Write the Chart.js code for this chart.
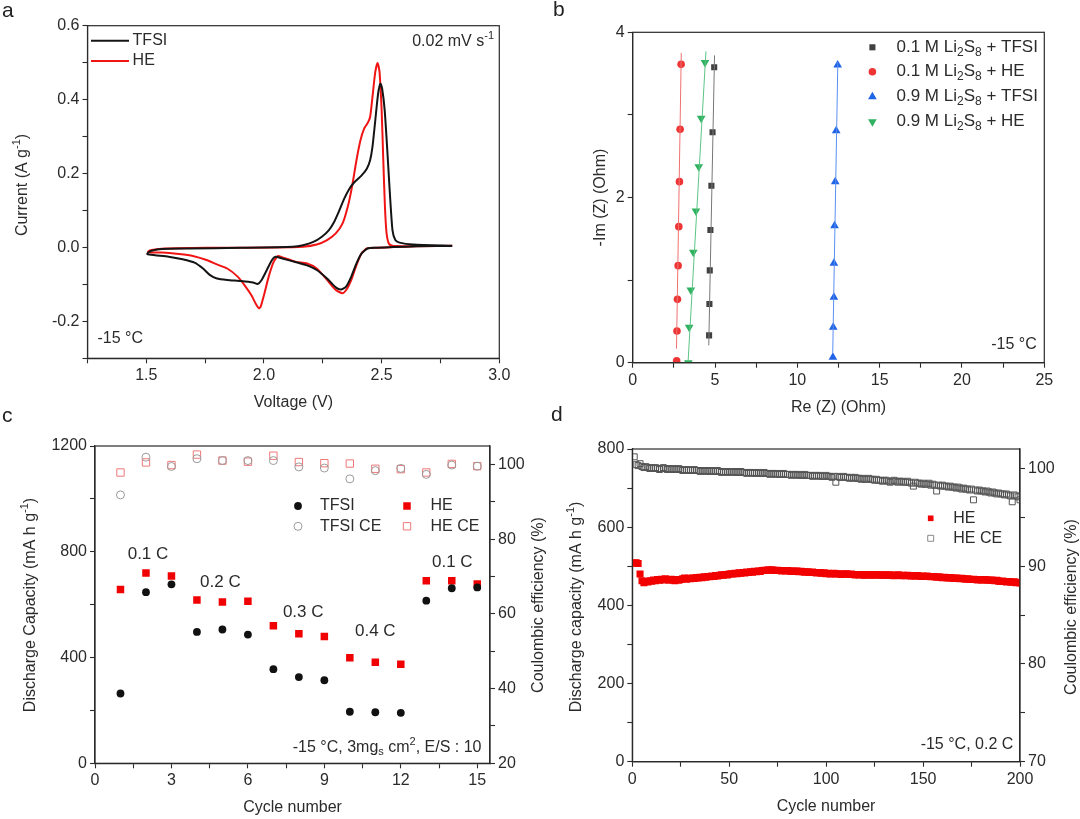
<!DOCTYPE html>
<html lang="en">
<head>
<meta charset="UTF-8">
<title>Li-S cells at -15 °C</title>
<script src="https://cdn.jsdelivr.net/npm/chart.js"></script>
<style>
  html, body { margin: 0; padding: 0; background: #fff; }
  #wrap { position: relative; width: 1080px; height: 819px; overflow: hidden; }
  #wrap canvas { position: absolute; left: 0; top: 0; }
</style>
</head>
<body>
<div id="wrap">
  <canvas id="pa" width="1080" height="819"></canvas>
  <canvas id="pb" width="1080" height="819"></canvas>
  <canvas id="pc" width="1080" height="819"></canvas>
  <canvas id="pd" width="1080" height="819"></canvas>
</div>
<script>
// ---- panel a: CV curves [voltage, current], scan from 2.8 V down and back
const cvTFSI = [[2.80,0.004],[2.65,0.003],[2.55,0.001],[2.48,-0.001],[2.44,-0.003],[2.415,-0.016],[2.393,-0.043],
  [2.371,-0.079],[2.349,-0.106],[2.327,-0.114],[2.305,-0.108],[2.268,-0.084],[2.224,-0.061],[2.18,-0.048],
  [2.137,-0.04],[2.078,-0.03],[2.049,-0.025],[2.034,-0.034],[2.012,-0.061],[1.99,-0.088],[1.973,-0.099],
  [1.954,-0.095],[1.902,-0.091],[1.844,-0.088],[1.80,-0.084],[1.771,-0.075],[1.741,-0.057],[1.705,-0.041],
  [1.654,-0.032],[1.595,-0.025],[1.537,-0.021],[1.504,-0.018],[1.51,-0.013],[1.522,-0.009],[1.566,-0.0045],
  [1.683,-0.003],[1.9,-0.001],[2.122,0.002],[2.166,0.006],[2.21,0.015],[2.246,0.029],[2.276,0.047],
  [2.298,0.069],[2.32,0.10],[2.341,0.132],[2.363,0.159],[2.385,0.177],[2.415,0.195],[2.437,0.213],
  [2.451,0.236],[2.461,0.272],[2.473,0.344],[2.485,0.416],[2.495,0.443],[2.502,0.43],[2.513,0.371],
  [2.524,0.263],[2.535,0.146],[2.546,0.047],[2.558,0.02],[2.576,0.013],[2.634,0.008],[2.80,0.0045]];
const cvHE = [[2.80,0.004],[2.65,0.003],[2.55,0.001],[2.48,-0.001],[2.437,-0.003],[2.415,-0.016],[2.393,-0.048],
  [2.371,-0.088],[2.353,-0.112],[2.334,-0.124],[2.305,-0.115],[2.268,-0.088],[2.224,-0.057],[2.18,-0.043],
  [2.137,-0.039],[2.078,-0.027],[2.06,-0.023],[2.041,-0.039],[2.02,-0.079],[2.002,-0.124],[1.986,-0.16],
  [1.979,-0.165],[1.968,-0.156],[1.946,-0.129],[1.917,-0.102],[1.888,-0.079],[1.844,-0.057],[1.80,-0.046],
  [1.756,-0.034],[1.698,-0.023],[1.639,-0.018],[1.566,-0.014],[1.507,-0.0135],[1.51,-0.01],[1.522,-0.007],
  [1.58,-0.003],[1.756,-0.001],[2.049,0],[2.166,0.002],[2.224,0.008],[2.268,0.02],[2.305,0.038],
  [2.334,0.065],[2.356,0.11],[2.374,0.164],[2.393,0.236],[2.41,0.29],[2.426,0.322],[2.441,0.337],
  [2.451,0.353],[2.461,0.407],[2.473,0.475],[2.483,0.499],[2.491,0.475],[2.5,0.371],[2.507,0.236],
  [2.514,0.11],[2.521,0.038],[2.532,0.009],[2.554,0.0036],[2.80,0.0045]];

// ---- panel b: impedance points [Re, -Im] and the fitted lines through them
const eis01TFSI = [[4.64,0.331],[4.66,0.71],[4.68,1.118],[4.72,1.606],[4.78,2.143],[4.85,2.789],[4.95,3.576]];
const eis01HE = [[2.67,0.024],[2.69,0.383],[2.72,0.767],[2.76,1.175],[2.80,1.647],[2.84,2.192],[2.88,2.825],[2.94,3.612]];
const eis09TFSI = [[12.16,0.065],[12.18,0.428],[12.22,0.791],[12.22,1.203],[12.26,1.659],[12.30,2.192],[12.36,2.809],[12.45,3.604]];
const eis09HE = [[3.38,0.0],[3.43,0.428],[3.53,0.88],[3.68,1.336],[3.84,1.837],[4.01,2.373],[4.16,2.959],[4.39,3.633]];
const fit01TFSI = [[4.62,0.21],[4.97,3.72]];
const fit01HE = [[2.66,0.17],[2.95,3.75]];
const fit09TFSI = [[12.15,0.12],[12.46,3.64]];
const fit09HE = [[3.36,0.0],[4.45,3.77]];

// ---- panel c: rate test
const cyclesC = [1, 2, 3, 4, 5, 6, 7, 8, 9, 10, 11, 12, 13, 14, 15];
const capTFSI = [264, 647, 677, 497, 506, 487, 356, 326, 314, 195, 193, 191, 615, 662, 665];
const capHE = [657, 720, 708, 618, 610, 613, 520, 490, 480, 399, 382, 375, 690, 690, 678];
const ceTFSI = [91.9, 102.0, 99.5, 101.6, 101.1, 101.1, 101.1, 99.4, 99.1, 96.2, 98.4, 99.0, 97.4, 99.9, 99.6];
const ceHE = [97.9, 100.6, 99.9, 102.7, 101.1, 100.8, 102.4, 100.7, 100.4, 100.3, 98.9, 98.8, 97.9, 100.2, 99.6];
const rateLabels = ['0.1 C', '0.2 C', '0.3 C', '0.4 C', '0.1 C'];
const ratePos = [[2.08, 791], [4.92, 685], [8.17, 571], [11.0, 498], [14.02, 760]];

// ---- panel d: 200 cycles at 0.2 C
const cyclesD = Array.from({ length: 200 }, (_, i) => i + 1);
const dCapHE = [
  508, 509, 507, 480, 463, 458, 461, 460, 463, 462, 465, 463, 466, 464, 467, 465, 468, 466, 464, 467,
  465, 463, 466, 464, 466, 468, 470, 467, 469, 468, 470, 469, 471, 470, 472, 471, 473, 472, 474, 473,
  475, 474, 476, 475, 477, 478, 477, 479, 478, 480, 481, 480, 482, 481, 483, 482, 484, 483, 485, 484,
  486, 485, 487, 486, 488, 487, 489, 490, 489, 491, 490, 491, 490, 489, 490, 489, 488, 489, 488, 489,
  488, 487, 488, 487, 488, 486, 487, 486, 485, 486, 485, 484, 485, 484, 483, 484, 483, 482, 483, 481,
  482, 480, 481, 482, 480, 481, 480, 479, 480, 481, 480, 479, 480, 479, 478, 479, 478, 479, 478, 477,
  478, 479, 478, 477, 478, 479, 478, 477, 478, 477, 478, 477, 478, 477, 476, 477, 478, 477, 476, 477,
  476, 477, 476, 475, 476, 475, 476, 475, 474, 475, 474, 475, 474, 473, 474, 473, 472, 473, 472, 471,
  472, 471, 470, 471, 470, 469, 470, 469, 468, 469, 468, 467, 468, 467, 466, 467, 466, 465, 466, 465,
  465, 466, 465, 464, 465, 464, 463, 464, 462, 461, 462, 461, 460, 461, 460, 459, 460, 458, 459, 457];
const dCeHE = [
  101.2, 100.4, 100.3, 100.5, 100.2, 100.1, 100.2, 100.1, 100.0, 100.1, 100.0, 100.1, 100.0, 99.9, 100.0, 100.1, 100.0, 99.9, 100.0, 99.9,
  100.0, 99.9, 99.9, 100.0, 99.9, 99.8, 99.9, 99.8, 99.9, 99.8, 99.8, 99.9, 99.8, 99.8, 99.7, 99.8, 99.8, 99.7, 99.8, 99.7,
  99.8, 99.7, 99.7, 99.8, 99.7, 99.6, 99.7, 99.7, 99.6, 99.7, 99.7, 99.6, 99.7, 99.6, 99.6, 99.7, 99.6, 99.6, 99.5, 99.6,
  99.6, 99.5, 99.6, 99.5, 99.6, 99.5, 99.5, 99.6, 99.5, 99.5, 99.4, 99.5, 99.5, 99.4, 99.5, 99.4, 99.4, 99.5, 99.4, 99.4,
  99.4, 99.3, 99.4, 99.4, 99.3, 99.4, 99.3, 99.3, 99.4, 99.3, 99.3, 99.3, 99.2, 99.3, 99.3, 99.2, 99.3, 99.2, 99.2, 99.3,
  99.2, 99.2, 99.1, 99.2, 98.6, 99.2, 99.1, 99.1, 99.2, 99.1, 99.1, 99.0, 99.1, 99.0, 99.1, 99.0, 99.0, 98.9, 99.0, 98.9,
  98.9, 99.0, 98.9, 98.9, 98.8, 98.9, 98.8, 98.8, 98.7, 98.8, 98.8, 98.7, 98.6, 98.7, 98.8, 98.7, 98.6, 98.7, 98.7, 98.6,
  98.6, 98.7, 98.6, 98.5, 98.2, 98.6, 98.5, 98.5, 98.4, 98.5, 98.4, 98.4, 98.5, 98.3, 98.4, 98.3, 97.7, 98.3, 98.2, 98.3,
  98.2, 98.2, 98.1, 98.2, 98.1, 98.1, 98.0, 98.1, 98.0, 97.9, 98.0, 97.9, 97.9, 97.8, 97.9, 96.8, 97.8, 97.7, 97.8, 97.7,
  97.7, 97.6, 97.7, 97.6, 97.5, 97.6, 97.5, 97.4, 97.5, 97.4, 97.4, 97.3, 97.4, 97.3, 97.2, 96.6, 97.3, 97.2, 97.1, 96.8];

const FONT = '"Liberation Sans", Arial, Helvetica, sans-serif';
const INK = '#2b2b2b';
const W = 1080, H = 819;
Chart.defaults.font.family = FONT;
Chart.defaults.font.size = 16;
Chart.defaults.color = INK;

const pts = arr => arr.map(p => ({ x: p[0], y: p[1] }));
const zip = (xs, ys) => xs.map((x, i) => ({ x, y: ys[i] }));
const near = (v, m) => Math.abs(v / m - Math.round(v / m)) < 1e-6;

function axis(position, min, max, step, major, digits) {
  return {
    type: 'linear', position, min, max,
    afterFit: s => { if (s.isHorizontal()) s.height = 30; else s.width = 50; },
    border: { display: true, color: INK, width: 1.2 },
    grid: { drawOnChartArea: false, tickLength: 5, tickColor: INK, tickWidth: 1.1 },
    ticks: {
      stepSize: step, autoSkip: false, includeBounds: false, maxRotation: 0, padding: 3, color: INK,
      font: { family: FONT, size: 16 },
      callback: v => near(v, major) ? (Math.abs(v) < 1e-9 ? 0 : v).toFixed(digits) : ''
    }
  };
}

// text with sub/superscripts: parts = [[text, 0|1(sup)|-1(sub)], ...]
function rich(ctx, parts, x, y, align, rot, size, color, base) {
  if (typeof parts === 'string') parts = [[parts, 0]];
  const fontFor = m => (m ? Math.round(size * 0.68) : size) + 'px ' + FONT;
  let w = 0;
  parts.forEach(p => { ctx.font = fontFor(p[1]); w += ctx.measureText(p[0]).width; });
  ctx.save();
  ctx.translate(x, y);
  ctx.rotate(rot || 0);
  ctx.fillStyle = color || INK;
  ctx.textAlign = 'left';
  ctx.textBaseline = base || 'middle';
  let cx = align === 'center' ? -w / 2 : align === 'right' ? -w : 0;
  parts.forEach(p => {
    ctx.font = fontFor(p[1]);
    const dy = p[1] === 1 ? -size * 0.36 : p[1] === -1 ? size * 0.3 : 0;
    ctx.fillText(p[0], cx, dy);
    cx += ctx.measureText(p[0]).width;
  });
  ctx.restore();
}

function mark(ctx, style, x, y, r, fill, stroke) {
  ctx.save();
  ctx.beginPath();
  if (style === 'circle') {
    ctx.arc(x, y, r, 0, Math.PI * 2);
  } else if (style === 'rect') {
    const s = r * Math.SQRT1_2;
    ctx.rect(x - s, y - s, 2 * s, 2 * s);
  } else {
    let a = style === 'triDown' ? Math.PI : 0;
    for (let i = 0; i < 3; i++) {
      const px = x + Math.sin(a) * r, py = y - Math.cos(a) * r;
      if (i) ctx.lineTo(px, py); else ctx.moveTo(px, py);
      a += Math.PI * 2 / 3;
    }
    ctx.closePath();
  }
  if (fill) { ctx.fillStyle = fill; ctx.fill(); }
  if (stroke) { ctx.strokeStyle = stroke; ctx.lineWidth = 1; ctx.stroke(); }
  ctx.restore();
}

function decoPlugin(cfg) {
  return {
    id: 'deco',
    afterDraw(chart) {
      const ctx = chart.ctx, a = chart.chartArea;
      ctx.save();
      ctx.strokeStyle = INK;
      ctx.lineWidth = 1.2;
      ctx.strokeRect(a.left, a.top, a.right - a.left, a.bottom - a.top);
      ctx.restore();
      (cfg.keys || []).forEach(k => {
        if (k.line) {
          ctx.save();
          ctx.strokeStyle = k.line;
          ctx.lineWidth = 2;
          ctx.beginPath();
          ctx.moveTo(k.x - 19, k.y);
          ctx.lineTo(k.x + 19, k.y);
          ctx.stroke();
          ctx.restore();
        } else {
          mark(ctx, k.style, k.x, k.y, k.r, k.fill, k.stroke);
        }
        rich(ctx, k.label, k.tx, k.y, 'left', 0, k.size || 16);
      });
      (cfg.texts || []).forEach(t => {
        let x = t.x, y = t.y;
        if (t.at) {
          x = chart.scales.x.getPixelForValue(t.at[0]);
          y = chart.scales.y.getPixelForValue(t.at[1]);
        }
        rich(ctx, t.parts, x, y, t.align || 'left', t.rot || 0, t.size || 16, t.color, t.base);
      });
    }
  };
}

function panel(id, area, scales, datasets, deco) {
  const hasY2 = !!scales.y2;
  return new Chart(document.getElementById(id), {
    type: 'scatter',
    data: { datasets },
    options: {
      responsive: false,
      animation: false,
      events: [],
      layout: { padding: { left: area.l - 50, top: area.t, right: W - area.r - (hasY2 ? 50 : 0), bottom: H - area.b - 30 } },
      plugins: { legend: { display: false }, tooltip: { enabled: false } },
      scales
    },
    plugins: [decoPlugin(deco)]
  });
}

const UP = -Math.PI / 2;
const li = tail => [['0.' + tail[0] + ' M Li', 0], ['2', -1], ['S', 0], ['8', -1], [' + ' + tail[1], 0]];
const letter = (s, x, y) => ({ parts: s, x, y, size: 21, base: 'alphabetic', color: '#222' });

// a
panel('pa', { l: 87.5, t: 25.7, r: 499.3, b: 358.3 },
  { x: axis('bottom', 1.25, 3.0, 0.25, 0.5, 1), y: axis('left', -0.3, 0.6, 0.1, 0.2, 1) },
  [
    { data: pts(cvTFSI), showLine: true, tension: 0.2, borderColor: '#141414', borderWidth: 2, pointRadius: 0 },
    { data: pts(cvHE), showLine: true, tension: 0.2, borderColor: '#f01414', borderWidth: 2, pointRadius: 0 }
  ],
  {
    keys: [
      { line: '#141414', x: 110, y: 40.7, tx: 132.6, label: 'TFSI' },
      { line: '#f01414', x: 110, y: 61, tx: 132.6, label: 'HE' }
    ],
    texts: [
      { parts: [['0.02 mV s', 0], ['-1', 1]], x: 494, y: 42, align: 'right' },
      { parts: '-15 °C', x: 97.5, y: 339 },
      { parts: [['Current (A g', 0], ['-1', 1], [')', 0]], x: 22.4, y: 185, align: 'center', rot: UP },
      { parts: 'Voltage (V)', x: 293.4, y: 403, align: 'center' },
      letter('a', 2, 16.5)
    ]
  });

// b
const lineDs = (d, c) => ({ data: pts(d), showLine: true, borderColor: c, borderWidth: 1, pointRadius: 0 });
const dotDs = (d, c, s, r, rot) => ({ data: pts(d), pointStyle: s, pointRadius: r, pointRotation: rot || 0,
  backgroundColor: c, borderColor: c, borderWidth: 0 });
panel('pb', { l: 632.7, t: 32.3, r: 1044.3, b: 362.7 },
  { x: axis('bottom', 0, 25, 2.5, 5, 0), y: axis('left', 0, 4, 1, 2, 0) },
  [
    lineDs(fit01TFSI, '#777777'), lineDs(fit01HE, '#f07070'), lineDs(fit09TFSI, '#5a8ff0'), lineDs(fit09HE, '#5cc585'),
    dotDs(eis01TFSI, '#404040', 'rect', 4.3),
    dotDs(eis01HE, '#ee3535', 'circle', 3.8),
    dotDs(eis09TFSI, '#1f63e6', 'triangle', 5),
    dotDs(eis09HE, '#2fb160', 'triangle', 5, 180)
  ],
  {
    keys: [
      { style: 'rect', r: 4.3, fill: '#404040', x: 872.4, y: 47.3, tx: 896.5, label: li(['1', 'TFSI']), size: 17 },
      { style: 'circle', r: 3.8, fill: '#ee3535', x: 872.4, y: 71.7, tx: 896.5, label: li(['1', 'HE']), size: 17 },
      { style: 'tri', r: 5, fill: '#1f63e6', x: 872.4, y: 96.7, tx: 896.5, label: li(['9', 'TFSI']), size: 17 },
      { style: 'triDown', r: 5, fill: '#2fb160', x: 872.4, y: 121.7, tx: 896.5, label: li(['9', 'HE']), size: 17 }
    ],
    texts: [
      { parts: '-15 °C', x: 1036.7, y: 345, align: 'right' },
      { parts: '-Im (Z) (Ohm)', x: 600.3, y: 197.5, align: 'center', rot: UP },
      { parts: 'Re (Z) (Ohm)', x: 838.5, y: 408, align: 'center' },
      letter('b', 553, 16)
    ]
  });

// c
panel('pc', { l: 95, t: 446, r: 490, b: 763.3 },
  { x: axis('bottom', 0, 15.5, 1.5, 3, 0), y: axis('left', 0, 1200, 200, 400, 0), y2: axis('right', 20, 105, 10, 20, 0) },
  [
    { data: zip(cyclesC, ceTFSI), yAxisID: 'y2', pointStyle: 'circle', pointRadius: 4, backgroundColor: 'rgba(0,0,0,0)', borderColor: '#9a9a9a', borderWidth: 1 },
    { data: zip(cyclesC, ceHE), yAxisID: 'y2', pointStyle: 'rect', pointRadius: 5.2, backgroundColor: 'rgba(0,0,0,0)', borderColor: '#f07878', borderWidth: 1 },
    { data: zip(cyclesC, capTFSI), yAxisID: 'y', pointStyle: 'circle', pointRadius: 3.9, backgroundColor: '#111', borderColor: '#111', borderWidth: 0 },
    { data: zip(cyclesC, capHE), yAxisID: 'y', pointStyle: 'rect', pointRadius: 5.3, backgroundColor: '#f00000', borderColor: '#f00000', borderWidth: 0 }
  ],
  {
    keys: [
      { style: 'circle', r: 3.9, fill: '#111', x: 298, y: 506, tx: 320, label: 'TFSI' },
      { style: 'rect', r: 5.3, fill: '#f00000', x: 407, y: 506, tx: 430.5, label: 'HE' },
      { style: 'circle', r: 4, stroke: '#9a9a9a', x: 298, y: 526.3, tx: 320, label: 'TFSI CE' },
      { style: 'rect', r: 5.2, stroke: '#f07878', x: 407, y: 526.3, tx: 430.5, label: 'HE CE' }
    ],
    texts: rateLabels.map((s, i) => ({ parts: s, at: ratePos[i], align: 'center', size: 17 })).concat([
      { parts: [['-15 °C, 3mg', 0], ['s', -1], [' cm', 0], ['2', 1], [', E/S : 10', 0]], x: 481.5, y: 747.3, align: 'right' },
      { parts: [['Discharge Capacity (mA h g', 0], ['-1', 1], [')', 0]], x: 31, y: 605, align: 'center', rot: UP },
      { parts: 'Coulombic efficiency (%)', x: 539, y: 605, align: 'center', rot: UP },
      { parts: 'Cycle number', x: 292.5, y: 808, align: 'center' },
      letter('c', 2, 422)
    ])
  });

// d
panel('pd', { l: 632.3, t: 449, r: 1020, b: 761.7 },
  { x: axis('bottom', 0, 200, 25, 50, 0), y: axis('left', 0, 800, 100, 200, 0), y2: axis('right', 70, 102, 5, 10, 0) },
  [
    { data: zip(cyclesD, dCeHE), yAxisID: 'y2', pointStyle: 'rect', pointRadius: 4.2, backgroundColor: 'rgba(0,0,0,0)', borderColor: '#555555', borderWidth: 1 },
    { data: zip(cyclesD, dCapHE), yAxisID: 'y', pointStyle: 'rect', pointRadius: 5, backgroundColor: '#f20000', borderColor: '#f20000', borderWidth: 0 }
  ],
  {
    keys: [
      { style: 'rect', r: 4, fill: '#f20000', x: 930.7, y: 518.3, tx: 953.3, label: 'HE' },
      { style: 'rect', r: 4.2, stroke: '#8a8a8a', x: 930.7, y: 538.3, tx: 953.3, label: 'HE CE' }
    ],
    texts: [
      { parts: '-15 °C, 0.2 C', x: 1013.3, y: 745, align: 'right' },
      { parts: [['Discharge capacity (mA h g', 0], ['-1', 1], [')', 0]], x: 577, y: 607, align: 'center', rot: UP },
      { parts: 'Coulombic efficiency (%)', x: 1071.7, y: 607, align: 'center', rot: UP },
      { parts: 'Cycle number', x: 826, y: 806.7, align: 'center' },
      letter('d', 551, 421)
    ]
  });
</script>
</body>
</html>
